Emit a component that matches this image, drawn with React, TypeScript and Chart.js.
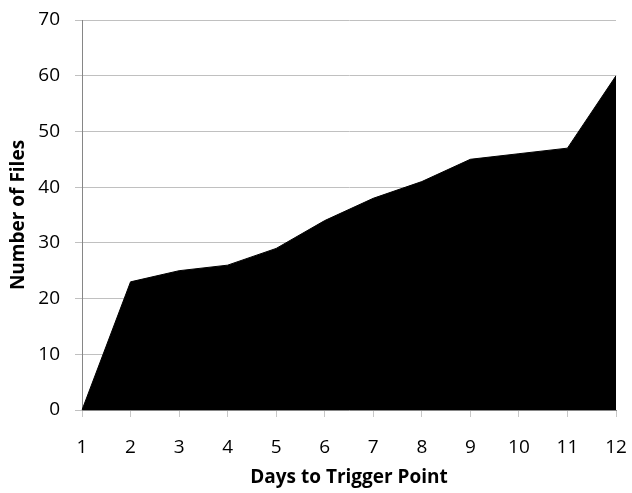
import React, { useEffect, useRef } from "react";
import { Chart, registerables } from "chart.js";

Chart.register(...registerables);

const days = ["1", "2", "3", "4", "5", "6", "7", "8", "9", "10", "11", "12"];
const files = [0, 23, 25, 26, 29, 34, 38, 41, 45, 46, 47, 60];
const yTitle = "Number of Files";
const xTitle = "Days to Trigger Point";

export default function App() {
  const ref = useRef<HTMLCanvasElement>(null);
  useEffect(() => {
    document.body.style.margin = "0";
    const ctx = ref.current!;
    const chart = new Chart(ctx, {
      type: "line",
      data: {
        labels: days,
        datasets: [
          {
            data: files,
            fill: "origin",
            backgroundColor: "#000000",
            borderColor: "#000000",
            borderWidth: 1,
            pointRadius: 0,
            tension: 0,
          },
        ],
      },
      options: {
        animation: false,
        responsive: false,
        maintainAspectRatio: false,
        layout: { padding: { top: 20, right: 16, left: 0, bottom: 0 } },
        plugins: { legend: { display: false }, tooltip: { enabled: false } },
        scales: {
          x: {
            offset: false,
            grid: {
              drawOnChartArea: false,
              drawTicks: true,
              tickLength: 7,
              color: "#c8c8c8",
            },
            border: { color: "#868686", width: 1 },
            ticks: {
              color: "#000",
              padding: 19,
              maxRotation: 0,
              font: { family: "'Open Sans'", size: 19 },
            },
            title: {
              display: true,
              text: xTitle,
              color: "#000",
              font: { family: "'Open Sans'", size: 19, weight: "bold" },
              padding: { top: 4, bottom: 4 },
            },
            afterFit: (s: any) => {
              s.height = 83;
              s.paddingLeft = 0;
              s.paddingRight = 0;
            },
          },
          y: {
            min: 0,
            max: 70,
            ticks: {
              stepSize: 10,
              color: "#000",
              padding: 15,
              font: { family: "'Open Sans'", size: 19 },
            },
            grid: { color: "#c0c0c0", tickLength: 7 },
            border: { color: "#868686", width: 1 },
            title: {
              display: true,
              text: yTitle,
              color: "#000",
              font: { family: "'Open Sans'", size: 19, weight: "bold" },
              padding: { top: 7, bottom: 4 },
            },
            afterFit: (s: any) => {
              s.width = 82;
              s.paddingTop = 0;
              s.paddingBottom = 0;
            },
          },
        },
      },
    });
    return () => chart.destroy();
  }, []);
  return (
    <div style={{ width: 632, height: 493 }}>
      <canvas ref={ref} width={632} height={493} />
    </div>
  );
}
